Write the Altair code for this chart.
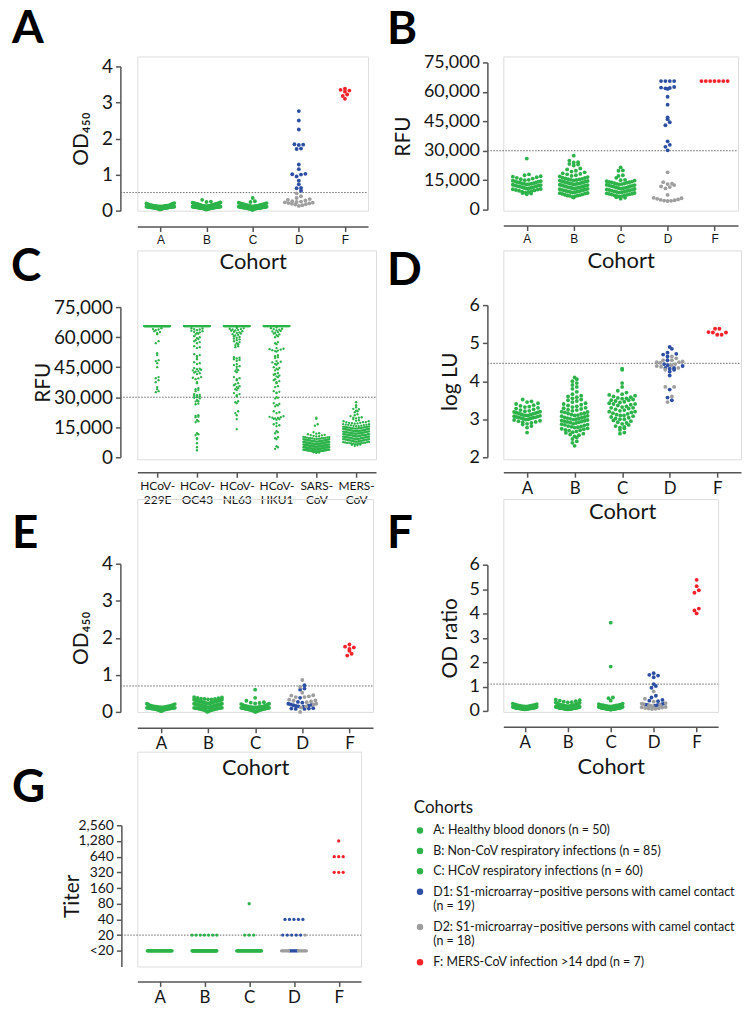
import json
import altair as alt
import pandas as pd

# ---------------- colours / fonts ----------------
GREEN = "#2db34a"
BLUE = "#2c4fa3"
GREY = "#9e9e9e"
RED = "#f5222a"
AXIS = "#555555"
INK = "#151515"
FONT = "Lato"

# ---------------- categories ----------------
cohorts = ["A", "B", "C", "D", "F"]
viruses = ["HCoV-229E", "HCoV-OC43", "HCoV-NL63", "HCoV-HKU1", "SARS-CoV", "MERS-CoV"]
virus_labels = [["HCoV-", "229E"], ["HCoV-", "OC43"], ["HCoV-", "NL63"],
                ["HCoV-", "HKU1"], ["SARS-", "CoV"], ["MERS-", "CoV"]]
groups = ["A", "B", "C", "D1", "D2", "F"]
group_colors = [GREEN, GREEN, GREEN, BLUE, GREY, RED]
group_text = [
    "A: Healthy blood donors (n = 50)",
    "B: Non-CoV respiratory infections (n = 85)",
    "C: HCoV respiratory infections (n = 60)",
    "D1: S1-microarray\u2013positive persons with camel contact|(n = 19)",
    "D2: S1-microarray\u2013positive persons with camel contact|(n = 18)",
    "F: MERS-CoV infection >14 dpd (n = 7)",
]
titer_labels = ["<20", "20", "40", "80", "160", "320", "640", "1,280", "2,560"]
thresholds = {"A": 0.5, "B": 30000, "C": 30000, "D": 4.47, "E": 0.7, "F": 1.1, "G": 1}

# ---------------- panel A: S1 ELISA OD450 ----------------
a_A = [0.03, 0.04, 0.05, 0.05, 0.06, 0.06, 0.06, 0.07, 0.07, 0.07,
       0.07, 0.08, 0.08, 0.08, 0.08, 0.08, 0.09, 0.09, 0.09, 0.09,
       0.09, 0.10, 0.10, 0.10, 0.10, 0.10, 0.10, 0.11, 0.11, 0.11,
       0.11, 0.11, 0.12, 0.12, 0.12, 0.12, 0.13, 0.13, 0.13, 0.14,
       0.14, 0.14, 0.15, 0.15, 0.16, 0.17, 0.18, 0.19, 0.20, 0.21]
a_B = [0.03, 0.04, 0.04, 0.05, 0.05, 0.05, 0.06, 0.06, 0.06, 0.06,
       0.07, 0.07, 0.07, 0.07, 0.07, 0.08, 0.08, 0.08, 0.08, 0.08,
       0.08, 0.09, 0.09, 0.09, 0.09, 0.09, 0.09, 0.10, 0.10, 0.10,
       0.10, 0.10, 0.10, 0.10, 0.11, 0.11, 0.11, 0.11, 0.11, 0.11,
       0.12, 0.12, 0.12, 0.12, 0.12, 0.12, 0.13, 0.13, 0.13, 0.13,
       0.13, 0.14, 0.14, 0.14, 0.14, 0.15, 0.15, 0.15, 0.15, 0.16,
       0.16, 0.16, 0.17, 0.17, 0.17, 0.18, 0.18, 0.18, 0.19, 0.19,
       0.19, 0.20, 0.20, 0.20, 0.21, 0.21, 0.22, 0.22, 0.23, 0.24,
       0.17, 0.18, 0.19, 0.25, 0.30]
a_C = [0.02, 0.03, 0.04, 0.04, 0.05, 0.05, 0.05, 0.06, 0.06, 0.06,
       0.06, 0.07, 0.07, 0.07, 0.07, 0.07, 0.08, 0.08, 0.08, 0.08,
       0.08, 0.08, 0.09, 0.09, 0.09, 0.09, 0.09, 0.10, 0.10, 0.10,
       0.10, 0.10, 0.11, 0.11, 0.11, 0.11, 0.12, 0.12, 0.12, 0.13,
       0.13, 0.13, 0.14, 0.14, 0.15, 0.15, 0.16, 0.16, 0.17, 0.17,
       0.18, 0.18, 0.19, 0.19, 0.20, 0.21, 0.22, 0.24, 0.26, 0.35]
a_D1 = [2.76, 2.50, 2.25, 1.83, 1.82, 1.84, 1.71, 1.72, 1.28, 1.15,
        1.01, 1.00, 1.02, 0.95, 0.83, 0.73, 0.63, 0.62, 0.55]
a_D2 = [0.48, 0.40, 0.35, 0.32, 0.30, 0.28, 0.26, 0.25, 0.24, 0.23,
        0.22, 0.21, 0.20, 0.19, 0.18, 0.17, 0.15, 0.13]
a_F = [3.38, 3.35, 3.33, 3.30, 3.22, 3.18, 3.10]

# ---------------- panel B: S1 microarray RFU ----------------
b_A = [7800, 8200, 8500, 8700, 9000, 9200, 9400, 9600, 9800, 10000,
       10200, 10400, 10500, 10700, 10900, 11000, 11200, 11400, 11500, 11700,
       11900, 12000, 12200, 12300, 12500, 12700, 12800, 13000, 13200, 13400,
       13500, 13700, 13900, 14000, 14200, 14400, 14500, 14700, 15000, 15200,
       15500, 15800, 16200, 16500, 16800, 17000, 17500, 18000, 13100, 26000]
b_B = [6200, 6500, 6800, 7000, 7200, 7400, 7600, 7800, 8000, 8200,
       8400, 8500, 8700, 8900, 9000, 9200, 9300, 9500, 9700, 9800,
       10000, 10100, 10300, 10400, 10600, 10700, 10900, 11000, 11200, 11300,
       11500, 11600, 11800, 11900, 12100, 12200, 12400, 12500, 12700, 12800,
       13000, 13100, 13300, 13400, 13600, 13700, 13900, 14000, 14200, 14300,
       14500, 14600, 14800, 14900, 15100, 15200, 15400, 15500, 15700, 15900,
       16100, 16300, 16600, 16900, 17200, 17500, 18000, 18200, 18500, 19000,
       19400, 19800, 20500, 21000, 22500, 23000, 23300, 24000, 24200, 25000,
       7100, 9100, 11100, 13200, 27500]
b_C = [5600, 6000, 6300, 6600, 6900, 7100, 7300, 7500, 7700, 7900,
       8100, 8300, 8500, 8700, 8900, 9100, 9300, 9500, 9700, 9900,
       10100, 10300, 10500, 10700, 10900, 11100, 11300, 11500, 11700, 11900,
       12100, 12300, 12500, 12700, 12900, 13100, 13300, 13500, 13700, 13900,
       14100, 14300, 14500, 14800, 15000, 15200, 7000, 8000, 9000, 10000,
       11000, 12000, 13000, 14000, 16200, 17200, 17500, 19800, 20000, 21500]
b_D1 = [65500, 65500, 65500, 65500, 62500, 62000, 62200, 61800, 61500,
        57500, 53500, 47000, 46000, 44500, 43000, 34800, 33000, 32000, 30200]
b_D2 = [19000, 14000, 13000, 12500, 13200, 11500, 10800, 11800, 7500,
        6000, 5800, 5500, 5200, 5000, 4800, 4600, 4500, 4400]
b_F = [65500, 65500, 65500, 65500, 65500, 65500, 65500]

# ---------------- panel C: microarray RFU per antigen (cohorts A-C) ----------------
n_sera_c = 195
rfu_saturated = 65535
c_229E = [64500, 64000, 63800, 63500, 63000, 62500, 62000, 61500, 58000, 57000,
          52000, 51000, 48500, 48000, 47000, 45000, 40000, 39500, 38500, 37500,
          35000, 34000, 33000, 32500]
c_OC43 = [64500, 64300, 64000, 63800, 63500, 63200, 63000, 62700, 62400, 62000, 61700, 61300,
          60500, 60000, 59500, 59000, 58500, 58000, 57500, 57000,
          55500, 55000, 54500, 51500, 51000, 50500, 49500, 49000, 47500, 47000, 46500,
          44500, 44200, 44000, 43700, 43400, 43000, 42700, 42400, 42000, 41500,
          40000, 39700, 39400, 39000, 37500, 37000, 34500, 34000, 33500, 33000,
          31500, 31200, 31000, 30700, 30400, 30000, 29700, 29400, 28500, 28000, 27800,
          26800, 26500, 21000, 20700, 20300, 20000, 18500, 18000, 17500,
          12000, 11500, 11000, 9500, 9000, 7000, 5000, 3500]
c_NL63 = [64800, 64600, 64400, 64200, 64000, 63800, 63600, 63400, 63200, 63000,
          62700, 62400, 62100, 61800, 61500, 61200, 60900, 60500, 60100, 59700,
          59300, 58900, 58500, 58000, 57500, 57000, 56500, 56000, 55500, 55000,
          50000, 49700, 49400, 49000, 48600, 48200, 46500, 46000, 45500, 45200,
          44000, 43500, 43000, 42500, 40000, 39500, 39000, 38500,
          37000, 36500, 36000, 35500, 35000, 34500, 34000, 33500,
          32000, 31500, 31000, 30500, 28000, 27500, 27000, 23000, 22000, 21000, 19000, 14000]
c_HKU1 = [64800, 64500, 64200, 64000, 63700, 63400, 63100, 62800, 62500, 62200,
          61800, 61400, 61000, 60500, 60000, 57500, 57000, 56500,
          54500, 54200, 54000, 53800, 53500, 53300, 53000, 52800,
          51000, 50500, 50000, 49500, 48000, 47700, 47400, 47000, 46600, 46200,
          45000, 44600, 44200, 43800, 43400, 42000, 41600, 41200, 40800, 40400, 40000,
          39000, 38500, 38000, 37500, 37000, 35500, 35000, 33000, 32700, 32300, 32000,
          30000, 29700, 29300, 27000, 26600, 26200, 25800, 25400, 23000, 22500, 22000,
          20500, 20200, 20000, 19800, 19600, 19400, 19200, 19000, 18700,
          17000, 16500, 16000, 15500, 13000, 12500, 12000, 10000, 9500, 9000, 5500, 5000, 4200]
c_SARS = [2200, 2400, 2500, 2600, 2700, 2800, 2900, 2900, 3000, 3000, 3100, 3100, 3200, 3200, 3300,
          3300, 3400, 3400, 3500, 3500, 3500, 3600, 3600, 3700, 3700, 3700, 3800, 3800, 3900, 3900,
          3900, 4000, 4000, 4000, 4100, 4100, 4200, 4200, 4200, 4300, 4300, 4400, 4400, 4400, 4500,
          4500, 4500, 4600, 4600, 4700, 4700, 4700, 4800, 4800, 4800, 4900, 4900, 5000, 5000, 5000,
          5100, 5100, 5100, 5200, 5200, 5300, 5300, 5300, 5400, 5400, 5500, 5500, 5500, 5600, 5600,
          5700, 5700, 5700, 5800, 5800, 5900, 5900, 6000, 6000, 6000, 6100, 6100, 6200, 6200, 6300,
          6300, 6300, 6400, 6400, 6500, 6500, 6600, 6600, 6700, 6700, 6700, 6800, 6800, 6900, 6900,
          7000, 7000, 7100, 7100, 7200, 7200, 7300, 7300, 7400, 7400, 7500, 7500, 7600, 7600, 7700,
          7700, 7800, 7800, 7900, 8000, 8000, 8100, 8100, 8200, 8300, 8300, 8400, 8500, 8500, 8600,
          8700, 8700, 8800, 8900, 9000, 9000, 9100, 9200, 9300, 9400, 9500, 9500, 9600, 9700, 9800,
          9900, 10000, 10100, 10200, 10400, 10500, 10700, 10900, 11000, 11200, 11500, 11800, 12000, 12500, 15800,
          16500, 19200, 19800, 3000, 3500, 4000, 4500, 5000, 5500, 6000, 6500, 7000, 7500, 8000, 8500,
          2600, 3200, 3800, 4300, 4900, 5400, 5800, 6200, 6800, 7300, 7900, 8400, 8800, 9200, 9600]
c_MERS = b_A + b_B + b_C

# ---------------- panel D: ppNT log LU ----------------
d_A = [2.65, 2.78, 2.82, 2.86, 2.88, 2.90, 2.92, 2.93, 2.95, 2.96,
       2.98, 2.99, 3.00, 3.01, 3.02, 3.03, 3.04, 3.05, 3.06, 3.07,
       3.08, 3.09, 3.10, 3.10, 3.11, 3.12, 3.13, 3.14, 3.15, 3.16,
       3.17, 3.18, 3.19, 3.20, 3.21, 3.22, 3.24, 3.26, 3.28, 3.30,
       3.32, 3.33, 3.35, 3.37, 3.40, 3.42, 3.45, 3.47, 3.52, 3.05]
d_B = [2.30, 2.38, 2.42, 2.48, 2.52, 2.55, 2.58, 2.60, 2.62, 2.64,
       2.66, 2.68, 2.70, 2.71, 2.72, 2.74, 2.75, 2.76, 2.78, 2.79,
       2.80, 2.81, 2.82, 2.84, 2.85, 2.86, 2.87, 2.88, 2.90, 2.91,
       2.92, 2.93, 2.94, 2.95, 2.96, 2.97, 2.98, 2.99, 3.00, 3.01,
       3.02, 3.03, 3.04, 3.05, 3.06, 3.08, 3.09, 3.10, 3.11, 3.12,
       3.14, 3.15, 3.16, 3.18, 3.19, 3.20, 3.22, 3.24, 3.25, 3.27,
       3.29, 3.30, 3.32, 3.34, 3.36, 3.38, 3.40, 3.42, 3.45, 3.48,
       3.50, 3.52, 3.55, 3.58, 3.60, 3.62, 3.66, 3.72, 3.80, 3.85,
       3.90, 3.95, 4.00, 4.05, 4.10]
d_C = [2.62, 2.65, 2.72, 2.76, 2.78, 2.80, 2.82, 2.85, 2.88, 2.90,
       2.92, 2.95, 2.97, 3.00, 3.02, 3.04, 3.06, 3.08, 3.10, 3.12,
       3.14, 3.16, 3.18, 3.20, 3.22, 3.24, 3.26, 3.28, 3.30, 3.32,
       3.34, 3.36, 3.38, 3.40, 3.42, 3.44, 3.46, 3.48, 3.50, 3.52,
       3.54, 3.56, 3.58, 3.60, 3.62, 3.64, 3.66, 3.70, 3.75, 3.85,
       3.95, 4.30, 4.33, 3.00, 3.10, 3.20, 3.30, 3.40, 3.50, 3.55]
d_D1 = [4.90, 4.85, 4.75, 4.72, 4.70, 4.65, 4.55, 4.45, 4.42, 4.40,
        4.35, 4.35, 4.33, 4.30, 4.25, 4.15, 3.78, 3.57, 3.50]
d_D2 = [4.65, 4.60, 4.55, 4.55, 4.52, 4.50, 4.50, 4.48, 4.45, 4.42,
        4.40, 4.38, 4.35, 4.30, 3.85, 3.85, 3.60, 3.45]
d_F = [5.38, 5.38, 5.29, 5.28, 5.22, 5.22, 5.28]

# ---------------- panel E: second ELISA OD450 ----------------
e_A = [0.02, 0.03, 0.04, 0.05, 0.05, 0.06, 0.06, 0.07, 0.07, 0.07,
       0.08, 0.08, 0.08, 0.09, 0.09, 0.09, 0.09, 0.10, 0.10, 0.10,
       0.10, 0.11, 0.11, 0.11, 0.11, 0.12, 0.12, 0.12, 0.12, 0.13,
       0.13, 0.13, 0.13, 0.14, 0.14, 0.14, 0.15, 0.15, 0.15, 0.16,
       0.16, 0.17, 0.17, 0.18, 0.18, 0.19, 0.20, 0.21, 0.22, 0.15]
e_B = [0.00, 0.02, 0.03, 0.04, 0.05, 0.05, 0.06, 0.06, 0.07, 0.07,
       0.08, 0.08, 0.09, 0.09, 0.10, 0.10, 0.10, 0.11, 0.11, 0.11,
       0.12, 0.12, 0.12, 0.13, 0.13, 0.13, 0.14, 0.14, 0.14, 0.15,
       0.15, 0.15, 0.16, 0.16, 0.16, 0.17, 0.17, 0.17, 0.18, 0.18,
       0.18, 0.19, 0.19, 0.19, 0.20, 0.20, 0.20, 0.21, 0.21, 0.21,
       0.22, 0.22, 0.22, 0.23, 0.23, 0.23, 0.24, 0.24, 0.25, 0.25,
       0.26, 0.26, 0.27, 0.27, 0.28, 0.28, 0.29, 0.29, 0.30, 0.30,
       0.31, 0.31, 0.32, 0.32, 0.33, 0.33, 0.34, 0.34, 0.35, 0.35,
       0.36, 0.37, 0.38, 0.39, 0.40]
e_C = [0.00, 0.01, 0.02, 0.02, 0.03, 0.03, 0.04, 0.04, 0.05, 0.05,
       0.05, 0.06, 0.06, 0.06, 0.07, 0.07, 0.07, 0.08, 0.08, 0.08,
       0.08, 0.09, 0.09, 0.09, 0.09, 0.10, 0.10, 0.10, 0.10, 0.11,
       0.11, 0.11, 0.11, 0.12, 0.12, 0.12, 0.12, 0.13, 0.13, 0.13,
       0.14, 0.14, 0.14, 0.15, 0.15, 0.16, 0.16, 0.17, 0.18, 0.19,
       0.20, 0.21, 0.22, 0.23, 0.24, 0.25, 0.26, 0.30, 0.38, 0.60]
e_D1 = [0.72, 0.63, 0.60, 0.38, 0.27, 0.25, 0.22, 0.20, 0.19, 0.18,
        0.17, 0.16, 0.15, 0.14, 0.10, 0.09, 0.09, 0.08, 0.08]
e_D2 = [0.86, 0.68, 0.52, 0.45, 0.44, 0.42, 0.40, 0.40, 0.33, 0.31,
        0.30, 0.28, 0.26, 0.22, 0.20, 0.15, 0.12, 0.00]
e_F = [1.82, 1.76, 1.74, 1.70, 1.65, 1.57, 1.52]

# ---------------- panel F: OD ratio ----------------
f_A = [0.06, 0.07, 0.07, 0.08, 0.08, 0.08, 0.09, 0.09, 0.09, 0.09,
       0.10, 0.10, 0.10, 0.10, 0.10, 0.11, 0.11, 0.11, 0.11, 0.11,
       0.12, 0.12, 0.12, 0.12, 0.12, 0.13, 0.13, 0.13, 0.13, 0.14,
       0.14, 0.14, 0.15, 0.15, 0.15, 0.16, 0.16, 0.17, 0.17, 0.18,
       0.18, 0.19, 0.20, 0.21, 0.22, 0.23, 0.25, 0.27, 0.28, 0.30]
f_B = [0.06, 0.07, 0.07, 0.08, 0.08, 0.08, 0.08, 0.09, 0.09, 0.09,
       0.09, 0.09, 0.10, 0.10, 0.10, 0.10, 0.10, 0.10, 0.11, 0.11,
       0.11, 0.11, 0.11, 0.11, 0.12, 0.12, 0.12, 0.12, 0.12, 0.12,
       0.13, 0.13, 0.13, 0.13, 0.13, 0.14, 0.14, 0.14, 0.14, 0.14,
       0.15, 0.15, 0.15, 0.15, 0.16, 0.16, 0.16, 0.16, 0.17, 0.17,
       0.17, 0.18, 0.18, 0.18, 0.19, 0.19, 0.19, 0.20, 0.20, 0.21,
       0.21, 0.22, 0.22, 0.23, 0.23, 0.24, 0.24, 0.25, 0.25, 0.26,
       0.27, 0.28, 0.29, 0.30, 0.31, 0.32, 0.33, 0.34, 0.35, 0.36,
       0.38, 0.40, 0.42, 0.44, 0.46]
f_C = [0.05, 0.06, 0.06, 0.07, 0.07, 0.07, 0.08, 0.08, 0.08, 0.08,
       0.09, 0.09, 0.09, 0.09, 0.10, 0.10, 0.10, 0.10, 0.10, 0.11,
       0.11, 0.11, 0.11, 0.11, 0.12, 0.12, 0.12, 0.12, 0.12, 0.13,
       0.13, 0.13, 0.13, 0.14, 0.14, 0.14, 0.15, 0.15, 0.15, 0.16,
       0.16, 0.17, 0.17, 0.18, 0.18, 0.19, 0.20, 0.21, 0.22, 0.23,
       0.24, 0.25, 0.26, 0.28, 0.30, 0.42, 0.52, 0.55, 1.82, 3.62]
f_D1 = [1.55, 1.48, 1.45, 1.38, 1.10, 1.02, 0.95, 0.62, 0.55, 0.45,
        0.42, 0.40, 0.30, 0.28, 0.26, 0.25, 0.25, 0.22, 0.20]
f_D2 = [0.80, 0.50, 0.38, 0.32, 0.30, 0.28, 0.25, 0.23, 0.20, 0.18,
        0.16, 0.15, 0.14, 0.12, 0.11, 0.10, 0.09, 0.08]
f_F = [5.38, 5.12, 4.95, 4.85, 4.20, 4.12, 4.00]

# ---------------- panel G: neutralisation titre (titre, number of sera) ----------------
g_A = [("<20", 50)]
g_B = [("<20", 78), ("20", 7)]
g_C = [("<20", 56), ("20", 3), ("80", 1)]
g_D1 = [("<20", 9), ("20", 5), ("40", 5)]
g_D2 = [("<20", 17), ("20", 1)]
g_F = [("320", 3), ("640", 3), ("1,280", 1)]


def expand_titers(pairs):
    out = []
    for lbl, cnt in pairs:
        out += [titer_labels.index(lbl)] * cnt
    return out


def frame(cats, parts):
    rows = []
    for cat, grp, vals in parts:
        i = cats.index(cat)
        for v in vals:
            rows.append({"cat": cat, "idx": i, "grp": grp, "v": v})
    return pd.DataFrame(rows)


def cohort_frame(A, B, C, D1, D2, F):
    return frame(cohorts, [("A", "A", A), ("B", "B", B), ("C", "C", C),
                           ("D", "D1", D1), ("D", "D2", D2), ("F", "F", F)])


def color_enc(legend):
    return alt.Color("grp:N", scale=alt.Scale(domain=groups, range=group_colors), legend=legend)


def panel(letter, df, cats, xlabels, W, H, ydom, yrng, yaxis_kw, thr, letter_xy,
          xoff, yoff, color, xtitle="Cohort", xlab_font=FONT, xlab_size=17,
          xlab_lh=14, xtitle_pad=6, dot=4.4, size=15, maxw=28, binpx=4.2):
    n = len(cats)
    step = W / n
    pxpu = (yrng[0] - yrng[1]) / (ydom[1] - ydom[0])
    binv = binpx / pxpu
    d = dot / step
    mw = maxw / step
    yscale = alt.Scale(domain=ydom, range=yrng, nice=False, zero=False)
    yaxis = alt.Axis(offset=yoff, grid=False, domainColor=AXIS, domainWidth=1.5,
                     tickColor=AXIS, tickWidth=1.5, tickSize=5, labelFont=FONT,
                     labelColor=INK, labelPadding=3, labelOverlap=False,
                     titleFont=FONT, titleFontWeight="normal", titleColor=INK,
                     **yaxis_kw)
    xaxis = alt.Axis(values=list(range(n)),
                     labelExpr=json.dumps(xlabels, ensure_ascii=False) + "[datum.value]",
                     title=xtitle, offset=xoff, grid=False, domainColor=AXIS,
                     domainWidth=1.5, tickColor=AXIS, tickWidth=1.5, tickSize=5,
                     labelFont=xlab_font, labelFontSize=xlab_size, labelColor=INK,
                     labelPadding=3, labelOverlap=False, labelFlush=False,
                     labelLineHeight=xlab_lh, titleFont=FONT, titleFontSize=22,
                     titleFontWeight="normal", titleColor=INK, titlePadding=xtitle_pad)
    pts = (
        alt.Chart(df)
        .transform_calculate(b=f"floor((datum.v - ({ydom[0]})) / {binv})")
        .transform_window(k="row_number()", groupby=["cat", "b"],
                          sort=[alt.SortField("v", order="ascending")])
        .transform_joinaggregate(n="count()", groupby=["cat", "b"])
        .transform_calculate(s=f"min({d}, {mw} / max(datum.n - 1, 1))")
        .transform_calculate(p="(datum.k % 2 == 0 ? datum.k / 2 : -(datum.k - 1) / 2)"
                               " - (datum.n % 2 == 0 ? 0.5 : 0)")
        .transform_calculate(xp="datum.idx + datum.p * datum.s")
        .mark_circle(size=size, opacity=1)
        .encode(
            x=alt.X("xp:Q", scale=alt.Scale(domain=[-0.5, n - 0.5], nice=False, zero=False),
                    axis=xaxis),
            y=alt.Y("v:Q", scale=yscale, axis=yaxis),
            color=color,
        )
    )
    rule = (
        alt.Chart(pd.DataFrame({"v": [thr]}))
        .mark_rule(color="#666666", strokeDash=[1.5, 1.5], strokeWidth=1)
        .encode(y=alt.Y("v:Q", scale=yscale, axis=yaxis),
                x=alt.value(-yoff), x2=alt.value(W))
    )
    lab = (
        alt.Chart(pd.DataFrame({"t": [letter]}))
        .mark_text(font=FONT, fontSize=46, fontWeight="bold", align="left",
                   baseline="top", color="black")
        .encode(text="t:N", x=alt.value(letter_xy[0]), y=alt.value(letter_xy[1]))
    )
    return alt.layer(rule, pts, lab).properties(width=W, height=H)


# ---------------- build panels ----------------
no_legend = color_enc(None)

pA = panel("A", cohort_frame(a_A, a_B, a_C, a_D1, a_D2, a_F), cohorts, cohorts,
           232, 155, [0, 4], [155, 10],
           dict(values=[0, 1, 2, 3, 4], format="d", labelFontSize=19,
                title="OD\u2084\u2085\u2080", titleFontSize=21, titlePadding=10),
           thresholds["A"], (-126, -50), 16, 17, no_legend,
           xlab_font="Liberation Sans", xlab_size=12, xtitle_pad=6)

pB = panel("B", cohort_frame(b_A, b_B, b_C, b_D1, b_D2, b_F), cohorts, cohorts,
           236, 155, [0, 75000], [154, 6],
           dict(values=[0, 15000, 30000, 45000, 60000, 75000], format=",d",
                labelFontSize=18, title="RFU", titleFontSize=21, titlePadding=10),
           thresholds["B"], (-117, -49), 15, 16, no_legend,
           xlab_font="Liberation Sans", xlab_size=12, xtitle_pad=6)

sat = [rfu_saturated]
c_parts = [
    (viruses[0], "A", c_229E + sat * (n_sera_c - len(c_229E))),
    (viruses[1], "A", c_OC43 + sat * (n_sera_c - len(c_OC43))),
    (viruses[2], "A", c_NL63 + sat * (n_sera_c - len(c_NL63))),
    (viruses[3], "A", c_HKU1 + sat * (n_sera_c - len(c_HKU1))),
    (viruses[4], "A", c_SARS),
    (viruses[5], "A", c_MERS),
]
pC = panel("C", frame(viruses, c_parts), viruses, virus_labels,
           240, 210, [0, 75000], [208, 57],
           dict(values=[0, 15000, 30000, 45000, 60000, 75000], format=",d",
                labelFontSize=19, title="RFU", titleFontSize=21, titlePadding=0),
           thresholds["C"], (-127, -5), 13, 17, alt.value(GREEN),
           xtitle=None, xlab_size=12, xlab_lh=14.5, dot=2.8, size=5.5, maxw=26, binpx=2.6)

pD = panel("D", cohort_frame(d_A, d_B, d_C, d_D1, d_D2, d_F), cohorts, cohorts,
           239, 210, [2, 6], [208, 55],
           dict(values=[2, 3, 4, 5, 6], format="d", labelFontSize=18,
                title="log LU", titleFontSize=21, titlePadding=9),
           thresholds["D"], (-117, -1), 13, 16, no_legend, maxw=26)

pE = panel("E", cohort_frame(e_A, e_B, e_C, e_D1, e_D2, e_F), cohorts, cohorts,
           237, 214, [0, 4], [214, 65],
           dict(values=[0, 1, 2, 3, 4], format="d", labelFontSize=19,
                title="OD\u2084\u2085\u2080", titleFontSize=21, titlePadding=10),
           thresholds["E"], (-126, 13), 16, 17, no_legend)

pF = panel("F", cohort_frame(f_A, f_B, f_C, f_D1, f_D2, f_F), cohorts, cohorts,
           216, 214, [0, 6], [213, 66],
           dict(values=[0, 1, 2, 3, 4, 5, 6], format="d", labelFontSize=18,
                title="OD ratio", titleFontSize=21, titlePadding=9),
           thresholds["F"], (-117, 13), 15, 16, no_legend, maxw=24)

legend_expr = ""
for code, txt in zip(groups, group_text):
    parts = txt.split("|")
    val = json.dumps(parts if len(parts) > 1 else txt, ensure_ascii=False)
    legend_expr += f"datum.label == '{code}' ? {val} : "
legend_expr += "datum.label"

g_legend = alt.Legend(title="Cohorts", orient="none", legendX=278, legendY=49,
                      titleFont=FONT, titleFontSize=17, titleFontWeight="normal",
                      titleColor=INK, titlePadding=7, labelFont=FONT, labelFontSize=12.5,
                      labelColor=INK, labelLimit=400, labelExpr=legend_expr,
                      symbolType="circle", symbolSize=42, symbolStrokeWidth=0,
                      rowPadding=7.5, labelOffset=7)

pG = panel("G", cohort_frame(expand_titers(g_A), expand_titers(g_B), expand_titers(g_C),
                             expand_titers(g_D1), expand_titers(g_D2), expand_titers(g_F)),
           cohorts, cohorts, 225, 216, [-1, 8], [216, 74],
           dict(values=list(range(9)),
                labelExpr=json.dumps(titer_labels) + "[datum.value]",
                labelFontSize=14, title="Titer", titleFontSize=21, titlePadding=-5),
           thresholds["G"], (-126, 15), 15, 16, color_enc(g_legend),
           xtitle=None, dot=4.5, size=11, maxw=25, binpx=4)

chart = (
    alt.concat(pA, pB, pC, pD, pE, pF, pG, columns=2,
               spacing={"row": 40, "column": 128}, bounds="flush")
    .resolve_scale(color="independent")
    .properties(padding={"left": 2, "top": -6, "right": 0, "bottom": 2}, background="white")
    .configure_view(stroke=None)
    .configure(font=FONT)
)

chart.save("out.html", embed_options={"renderer": "svg", "actions": False})
